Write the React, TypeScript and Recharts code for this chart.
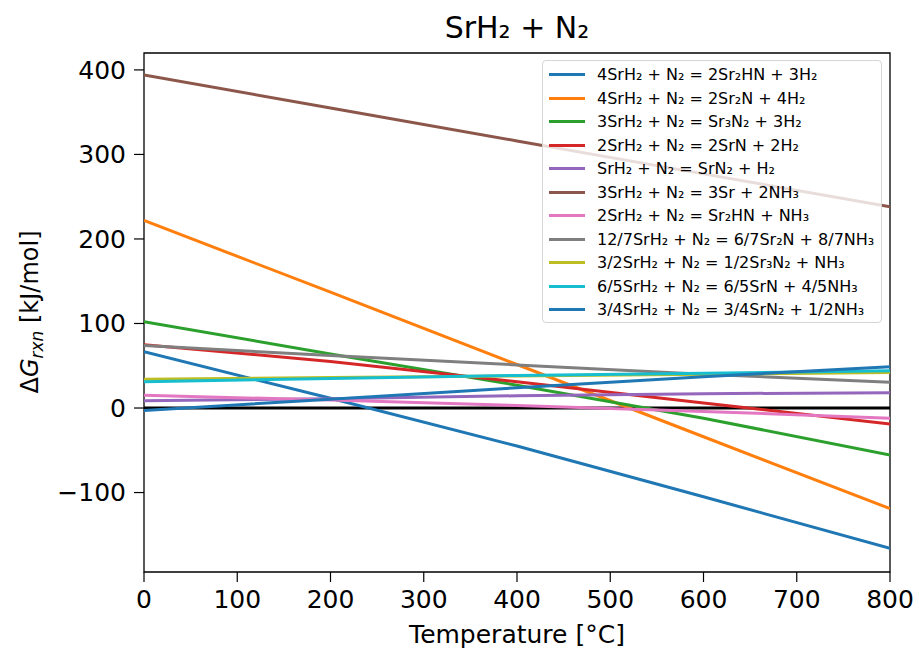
import React from 'react';
import { LineChart, Line, XAxis, YAxis, ReferenceLine, ReferenceArea, Label } from 'recharts';

const FONT = '"DejaVu Sans", sans-serif';

// temperature samples [°C]
const temps = [0, 200, 400, 600, 800];

// ΔG_rxn [kJ/mol] at each temperature
const sr2hnH2 = [66.6, 11.5, -45, -105, -166];
const sr2nH2 = [222, 137, 51.5, -34, -119];
const sr3n2H2 = [102, 64, 27, -12, -55.6];
const srnH2 = [75, 55, 31, 6, -19];
const srn2H2 = [8.7, 11, 14.5, 17, 18];
const srNH3 = [394, 355, 316, 277, 238];
const sr2hnNH3 = [15, 9.5, 3, -4, -12];
const sr2nNH3 = [74, 62, 51, 40, 30.5];
const sr3n2NH3 = [34, 36, 38, 40, 42];
const srnNH3 = [31, 35, 38.5, 41, 44];
const srn2NH3 = [-3, 10.5, 24, 37, 48.8];

const seriesValues = [
  sr2hnH2, sr2nH2, sr3n2H2, srnH2, srn2H2, srNH3,
  sr2hnNH3, sr2nNH3, sr3n2NH3, srnNH3, srn2NH3,
];

const seriesLabels = [
  '4SrH₂ + N₂ = 2Sr₂HN + 3H₂',
  '4SrH₂ + N₂ = 2Sr₂N + 4H₂',
  '3SrH₂ + N₂ = Sr₃N₂ + 3H₂',
  '2SrH₂ + N₂ = 2SrN + 2H₂',
  'SrH₂ + N₂ = SrN₂ + H₂',
  '3SrH₂ + N₂ = 3Sr + 2NH₃',
  '2SrH₂ + N₂ = Sr₂HN + NH₃',
  '12/7SrH₂ + N₂ = 6/7Sr₂N + 8/7NH₃',
  '3/2SrH₂ + N₂ = 1/2Sr₃N₂ + NH₃',
  '6/5SrH₂ + N₂ = 6/5SrN + 4/5NH₃',
  '3/4SrH₂ + N₂ = 3/4SrN₂ + 1/2NH₃',
];

const seriesColors = [
  '#1f77b4', '#ff7f0e', '#2ca02c', '#d62728', '#9467bd', '#8c564b',
  '#e377c2', '#7f7f7f', '#bcbd22', '#17becf', '#1f77b4',
];

const xTicks = [0, 100, 200, 300, 400, 500, 600, 700, 800];
const yTicks = [-100, 0, 100, 200, 300, 400];

const rows = temps.map((t, i) => {
  const r: Record<string, number> = { t };
  seriesValues.forEach((s, k) => {
    r['s' + k] = s[i];
  });
  return r;
});

const fmt = (v: number) => (v < 0 ? '\u2212' + Math.abs(v) : String(v));

const YLabel = () => (
  <text
    transform="translate(38,312) rotate(-90)"
    textAnchor="middle"
    fill="#000"
    fontSize={24}
    fontFamily={FONT}
  >
    Δ
    <tspan fontStyle="italic">G</tspan>
    <tspan fontStyle="italic" fontSize={17} dy={5}>rxn</tspan>
    <tspan dy={-5}> [kJ/mol]</tspan>
  </text>
);

export default function App() {
  return (
    <div style={{ position: 'absolute', left: 0, top: 0, width: 919, height: 654, background: '#fff' }}>
      <LineChart width={919} height={654} data={rows} margin={{ top: 53, right: 29, bottom: 0, left: 0 }}>
        <XAxis
          dataKey="t"
          type="number"
          domain={[0, 800]}
          ticks={xTicks}
          allowDataOverflow
          height={82}
          axisLine={false}
          tickSize={10}
          tickMargin={8}
          tickLine={{ stroke: '#000', strokeWidth: 1.2 }}
          tick={{ fill: '#000', fontSize: 25, fontFamily: FONT }}
        >
          <Label value="Temperature [°C]" position="insideBottom" offset={11} fill="#000" fontSize={25} fontFamily={FONT} />
        </XAxis>
        <YAxis
          type="number"
          domain={[-194, 420]}
          ticks={yTicks}
          allowDataOverflow
          width={144}
          axisLine={false}
          tickSize={10}
          tickMargin={8}
          tickFormatter={fmt}
          tickLine={{ stroke: '#000', strokeWidth: 1.2 }}
          tick={{ fill: '#000', fontSize: 25, fontFamily: FONT }}
        >
          <Label content={YLabel} />
        </YAxis>
        <ReferenceLine y={0} stroke="#000" strokeWidth={3.2} />
        {seriesValues.map((_, k) => (
          <Line
            key={k}
            type="linear"
            dataKey={'s' + k}
            stroke={seriesColors[k]}
            strokeWidth={3}
            dot={false}
            activeDot={false}
            isAnimationActive={false}
          />
        ))}
        <ReferenceArea x1={0} x2={800} y1={-194} y2={420} fill="none" stroke="#000" strokeWidth={1.3} ifOverflow="visible" />
      </LineChart>

      <div
        style={{
          position: 'absolute', left: 144, top: 13, width: 746, textAlign: 'center',
          fontFamily: FONT, fontSize: 30, lineHeight: '30px', color: '#000',
        }}
      >
        SrH₂ + N₂
      </div>

      <div
        style={{
          position: 'absolute', left: 542, top: 60, width: 338, height: 261,
          border: '1px solid #d5d5d5', borderRadius: 4, background: 'rgba(255,255,255,0.8)',
        }}
      >
        {seriesLabels.map((lab, k) => (
          <div
            key={k}
            style={{
              position: 'absolute', left: 0, top: 2 + k * 23.5, height: 23.5,
              display: 'flex', alignItems: 'center', whiteSpace: 'nowrap',
            }}
          >
            <span style={{ display: 'inline-block', marginLeft: 6, width: 36, height: 3, background: seriesColors[k] }} />
            <span style={{ marginLeft: 12, fontFamily: FONT, fontSize: 16, color: '#000' }}>{lab}</span>
          </div>
        ))}
      </div>
    </div>
  );
}
